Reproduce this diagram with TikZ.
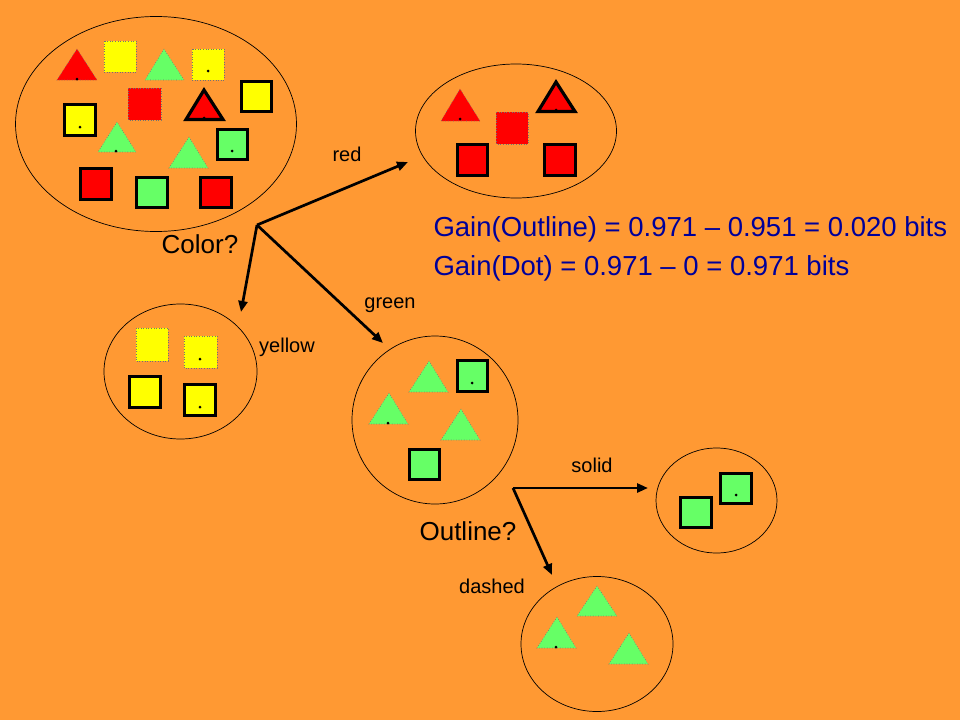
\documentclass[tikz,border=0pt]{standalone}
\usepackage{fontspec}
\setmainfont{Liberation Sans}
\usetikzlibrary{shapes.geometric,arrows.meta}
\definecolor{bg}{RGB}{255,153,51}
\definecolor{shred}{RGB}{255,0,0}
\definecolor{shyellow}{RGB}{255,255,0}
\definecolor{shgreen}{RGB}{102,255,102}
\definecolor{gainblue}{RGB}{0,0,153}

\begin{document}
\begin{tikzpicture}[x=1pt,y=-1pt,>={Triangle[length=11pt,width=9pt]}]

\tikzstyle{set}=[draw, ellipse, line width=0.7pt, inner sep=0pt]
\tikzstyle{boldline}=[draw=black, line width=3.2pt]
\tikzstyle{dotline}=[draw=black!55, dotted, line width=0.6pt]
\tikzstyle{branch}=[->, line width=2.7pt]
\tikzstyle{lbl}=[font=\fontsize{20}{24}\selectfont]
\tikzstyle{test}=[font=\fontsize{26}{30}\selectfont]
\tikzstyle{gain}=[font=\fontsize{27.5}{32}\selectfont, text=gainblue, anchor=west]

% background
\fill[bg] (0,0) rectangle (960,720);

% sets
\node(Eall)[style = set, minimum width=281pt, minimum height=215pt] at (156,124) {};
\node(Ered)[style = set, minimum width=201pt, minimum height=134pt] at (516,131) {};
\node(Eyel)[style = set, minimum width=153pt, minimum height=135pt] at (180.5,371.5) {};
\node(Egrn)[style = set, minimum width=166pt, minimum height=168pt] at (435,420) {};
\node(Esol)[style = set, minimum width=121pt, minimum height=105pt] at (716.5,500.5) {};
\node(Edsh)[style = set, minimum width=152pt, minimum height=135pt] at (597,644) {};

% all examples
\draw[dotline, fill=shyellow] (104,41) rectangle (136,72);
\draw[dotline, fill=shyellow] (192,49) rectangle (224,80);
\fill (208,71) circle (1.5pt);
\draw[boldline, fill=shyellow] (241.5,81.5) rectangle (271.5,111.5);
\draw[dotline, fill=shred] (128,88) rectangle (161,120);
\draw[boldline, fill=shyellow] (64.5,104.5) rectangle (95.5,135.5);
\fill (80,127) circle (1.5pt);
\draw[boldline, fill=shgreen] (217.5,129.5) rectangle (247.5,159.5);
\fill (232,151) circle (1.5pt);
\draw[boldline, fill=shred] (80.5,168.5) rectangle (111.5,199.5);
\draw[boldline, fill=shgreen] (136.5,177.5) rectangle (167.5,207.5);
\draw[boldline, fill=shred] (200.5,177.5) rectangle (231.5,207.5);
\draw[dotline, fill=shred] (77,49) -- (57,80) -- (97,80) -- cycle;
\fill (77,79) circle (1.5pt);
\draw[dotline, fill=shgreen] (164,49) -- (145,80) -- (184,80) -- cycle;
\draw[boldline, fill=shred] (204,90) -- (186,119.5) -- (223,119.5) -- cycle;
\fill (204,118) circle (1.5pt);
\draw[dotline, fill=shgreen] (117,122) -- (98,152) -- (136,152) -- cycle;
\fill (116,151) circle (1.5pt);
\draw[dotline, fill=shgreen] (189,137) -- (169,168) -- (208,168) -- cycle;

% red
\draw[dotline, fill=shred] (460,89) -- (441,121) -- (480,121) -- cycle;
\fill (460,119) circle (1.5pt);
\draw[dotline, fill=shred] (496,112) rectangle (528,144);
\draw[boldline, fill=shred] (556,82) -- (538,111.5) -- (575,111.5) -- cycle;
\fill (556,110) circle (1.5pt);
\draw[boldline, fill=shred] (457.5,144.5) rectangle (487.5,175.5);
\draw[boldline, fill=shred] (544.5,144.5) rectangle (575.5,175.5);

% yellow
\draw[dotline, fill=shyellow] (136,328) rectangle (168,361);
\draw[dotline, fill=shyellow] (184,336) rectangle (217,368);
\fill (200,359) circle (1.5pt);
\draw[boldline, fill=shyellow] (129.5,376.5) rectangle (160.5,407.5);
\draw[boldline, fill=shyellow] (184.5,384.5) rectangle (215.5,415.5);
\fill (200,407) circle (1.5pt);

% green
\draw[dotline, fill=shgreen] (429,361) -- (409,392) -- (448,392) -- cycle;
\draw[boldline, fill=shgreen] (457.5,360.5) rectangle (487.5,391.5);
\fill (472,383) circle (1.5pt);
\draw[dotline, fill=shgreen] (389,393) -- (369,424) -- (408,424) -- cycle;
\fill (388,423) circle (1.5pt);
\draw[dotline, fill=shgreen] (461,409) -- (441,440) -- (480,440) -- cycle;
\draw[boldline, fill=shgreen] (409.5,449.5) rectangle (439.5,479.5);

% solid
\draw[boldline, fill=shgreen] (720.5,473.5) rectangle (751.5,503.5);
\fill (736,495) circle (1.5pt);
\draw[boldline, fill=shgreen] (680.5,497.5) rectangle (711.5,527.5);

% dashed
\draw[dotline, fill=shgreen] (597,586) -- (577,616) -- (617,616) -- cycle;
\draw[dotline, fill=shgreen] (557,617) -- (537,648) -- (576,648) -- cycle;
\fill (556,647) circle (1.5pt);
\draw[dotline, fill=shgreen] (629,633) -- (609,664) -- (648,664) -- cycle;

% tests
\node(T1)[style = test] at (200,244) {Color?};
\node(T2)[style = test] at (468,531) {Outline?};

\coordinate(C1) at (257,225);
\coordinate(Cr) at (408,162);
\coordinate(Cy) at (241,312);
\coordinate(Cg) at (383,343);
\coordinate(C2) at (513,488);
\coordinate(Cs) at (648,488);
\coordinate(Cd) at (552,575);

% arrows
\draw[style = branch] (C1) -- (Cr);
\draw[style = branch] (C1) -- (Cy);
\draw[style = branch] (C1) -- (Cg);
\draw[style = branch] (C2) -- (Cs);
\draw[style = branch] (C2) -- (Cd);

% branch labels
\node(Lr)[style = lbl] at (347,154) {red};
\node(Ly)[style = lbl] at (287,347) {yellow};
\node(Lg)[style = lbl] at (390,305) {green};
\node(Ls)[style = lbl] at (592,465) {solid};
\node(Ld)[style = lbl] at (492,586) {dashed};

% gains
\node(G1)[style = gain] at (430,229) {Gain(Outline) = 0.971 – 0.951 = 0.020 bits};
\node(G2)[style = gain] at (430,268) {Gain(Dot) = 0.971 – 0 = 0.971 bits};

\end{tikzpicture}
\end{document}
